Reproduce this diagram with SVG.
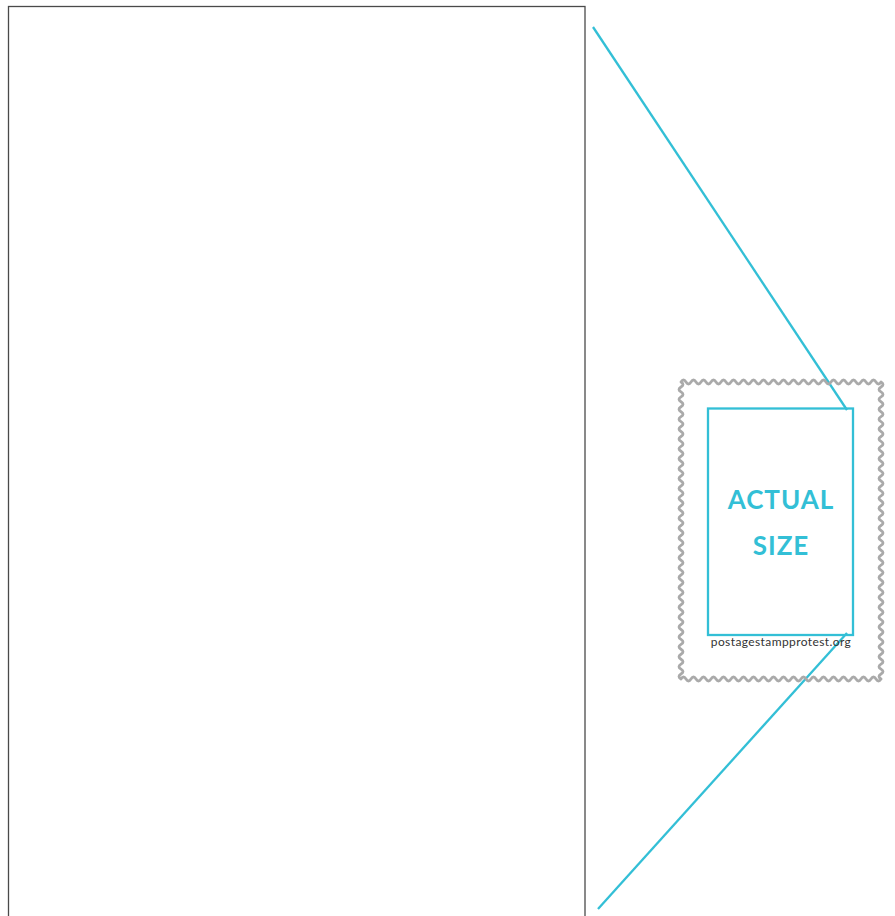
<svg xmlns="http://www.w3.org/2000/svg" width="895" height="916" viewBox="0 0 895 916">
<style>
.frame{fill:none;stroke:#4a4a4a;stroke-width:1.3}
.cyan{fill:none;stroke:#33bfd6;stroke-width:2.3}
.perf{fill:none;stroke:#aaaaaa;stroke-width:2.8;stroke-linejoin:round}
.big{font-family:Lato,"Liberation Sans",sans-serif;font-weight:700;font-size:26px;fill:#33bfd6;text-anchor:middle;letter-spacing:1px}
.url{font-family:Lato,"Liberation Sans",sans-serif;font-size:12px;fill:#333;text-anchor:middle;letter-spacing:0.4px}
</style>
<rect width="895" height="916" fill="#fff"/>
<g id="page"><rect class="frame" x="8.5" y="6.5" width="576.5" height="915"/></g>
<g id="connectors">
<line class="cyan" x1="593" y1="27" x2="847" y2="410"/>
<line class="cyan" x1="598" y1="909" x2="847" y2="633"/>
</g>
<g id="stamp">
<path class="perf" d="M681,382 q2.5,-4 5,0 t5,0 t5,0 t5,0 t5,0 t5,0 t5,0 t5,0 t5,0 t5,0 t5,0 t5,0 t5,0 t5,0 t5,0 t5,0 t5,0 t5,0 t5,0 t5,0 t5,0 t5,0 t5,0 t5,0 t5,0 t5,0 t5,0 t5,0 t5,0 t5,0 t5,0 t5,0 t5,0 t5,0 t5,0 t5,0 t5,0 t5,0 t5,0 t5,0
q4,2.475 0,4.95 t0,4.95 t0,4.95 t0,4.95 t0,4.95 t0,4.95 t0,4.95 t0,4.95 t0,4.95 t0,4.95 t0,4.95 t0,4.95 t0,4.95 t0,4.95 t0,4.95 t0,4.95 t0,4.95 t0,4.95 t0,4.95 t0,4.95 t0,4.95 t0,4.95 t0,4.95 t0,4.95 t0,4.95 t0,4.95 t0,4.95 t0,4.95 t0,4.95 t0,4.95 t0,4.95 t0,4.95 t0,4.95 t0,4.95 t0,4.95 t0,4.95 t0,4.95 t0,4.95 t0,4.95 t0,4.95 t0,4.95 t0,4.95 t0,4.95 t0,4.95 t0,4.95 t0,4.95 t0,4.95 t0,4.95 t0,4.95 t0,4.95 t0,4.95 t0,4.95 t0,4.95 t0,4.95 t0,4.95 t0,4.95 t0,4.95 t0,4.95 t0,4.95 t0,4.95
q-2.5,4 -5,0 t-5,0 t-5,0 t-5,0 t-5,0 t-5,0 t-5,0 t-5,0 t-5,0 t-5,0 t-5,0 t-5,0 t-5,0 t-5,0 t-5,0 t-5,0 t-5,0 t-5,0 t-5,0 t-5,0 t-5,0 t-5,0 t-5,0 t-5,0 t-5,0 t-5,0 t-5,0 t-5,0 t-5,0 t-5,0 t-5,0 t-5,0 t-5,0 t-5,0 t-5,0 t-5,0 t-5,0 t-5,0 t-5,0 t-5,0
q-4,-2.475 0,-4.95 t0,-4.95 t0,-4.95 t0,-4.95 t0,-4.95 t0,-4.95 t0,-4.95 t0,-4.95 t0,-4.95 t0,-4.95 t0,-4.95 t0,-4.95 t0,-4.95 t0,-4.95 t0,-4.95 t0,-4.95 t0,-4.95 t0,-4.95 t0,-4.95 t0,-4.95 t0,-4.95 t0,-4.95 t0,-4.95 t0,-4.95 t0,-4.95 t0,-4.95 t0,-4.95 t0,-4.95 t0,-4.95 t0,-4.95 t0,-4.95 t0,-4.95 t0,-4.95 t0,-4.95 t0,-4.95 t0,-4.95 t0,-4.95 t0,-4.95 t0,-4.95 t0,-4.95 t0,-4.95 t0,-4.95 t0,-4.95 t0,-4.95 t0,-4.95 t0,-4.95 t0,-4.95 t0,-4.95 t0,-4.95 t0,-4.95 t0,-4.95 t0,-4.95 t0,-4.95 t0,-4.95 t0,-4.95 t0,-4.95 t0,-4.95 t0,-4.95 t0,-4.95 t0,-4.95 Z"/>
<rect class="cyan" x="708" y="408.5" width="145" height="226.5"/>
<text class="big" x="781" y="509">ACTUAL</text>
<text class="big" x="781" y="555">SIZE</text>
<text class="url" x="781" y="646">postagestampprotest.org</text>
</g>
</svg>
